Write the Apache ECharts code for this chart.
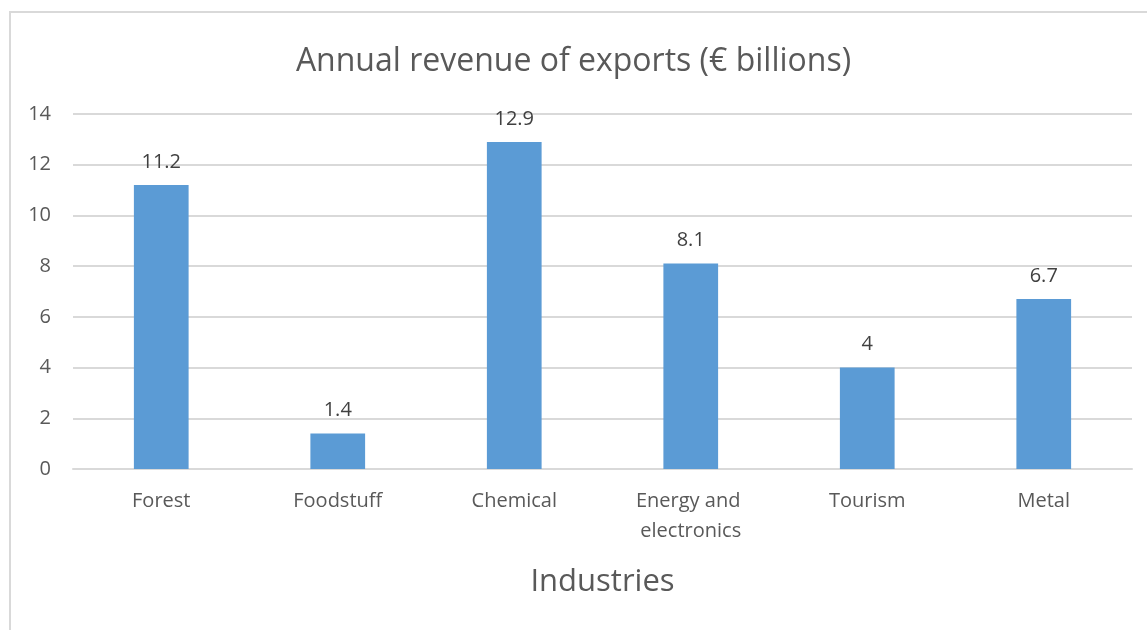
<!DOCTYPE html>
<html>
<head>
<meta charset="utf-8">
<script src="https://cdn.jsdelivr.net/npm/echarts@6/dist/echarts.min.js"></script>
<style>
html,body{margin:0;padding:0;background:#fff;}
#frame{position:absolute;left:9px;top:11px;width:1150px;height:630px;border:2px solid #d9d9d9;box-sizing:border-box;}
#chart{position:absolute;left:0;top:0;width:1147px;height:630px;}
</style>
</head>
<body>
<div id="frame"></div>
<div id="chart"></div>
<script>
const categories = ["Forest", "Foodstuff", "Chemical", "Energy and electronics", "Tourism", "Metal"];
const revenue = [11.2, 1.4, 12.9, 8.1, 4, 6.7];
const yTicks = [0, 2, 4, 6, 8, 10, 12, 14];

const chart = echarts.init(document.getElementById('chart'), null, {renderer: 'canvas'});
const font = 'Open Sans';
chart.setOption({
  animation: false,
  title: {
    text: 'Annual revenue of exports (€ billions)',
    left: 'center',
    top: 41,
    textStyle: {fontFamily: font, fontSize: 32, fontWeight: 'normal', color: '#595959'}
  },
  grid: {left: 73, right: 15, top: 114, bottom: 161, containLabel: false},
  xAxis: {
    type: 'category',
    data: categories,
    name: 'Industries',
    nameLocation: 'middle',
    nameGap: 98,
    nameTextStyle: {fontFamily: font, fontSize: 31, color: '#595959'},
    axisLine: {show: true, lineStyle: {color: '#d9d9d9', width: 2}},
    axisTick: {show: false},
    axisLabel: {
      fontFamily: font, fontSize: 20, color: '#595959', margin: 17,
      width: 140, overflow: 'break', lineHeight: 30, interval: 0
    }
  },
  yAxis: {
    type: 'value',
    min: yTicks[0],
    max: yTicks[yTicks.length - 1],
    interval: 2,
    axisLine: {show: false},
    axisTick: {show: false},
    axisLabel: {fontFamily: font, fontSize: 20, color: '#595959', margin: 22},
    splitLine: {lineStyle: {color: '#d9d9d9', width: 2}}
  },
  series: [{
    type: 'bar',
    data: revenue,
    barWidth: '31%',
    itemStyle: {color: '#5b9bd5'},
    label: {
      show: true, position: 'top', distance: 13,
      fontFamily: font, fontSize: 20, color: '#404040'
    }
  }]
});
</script>
</body>
</html>
